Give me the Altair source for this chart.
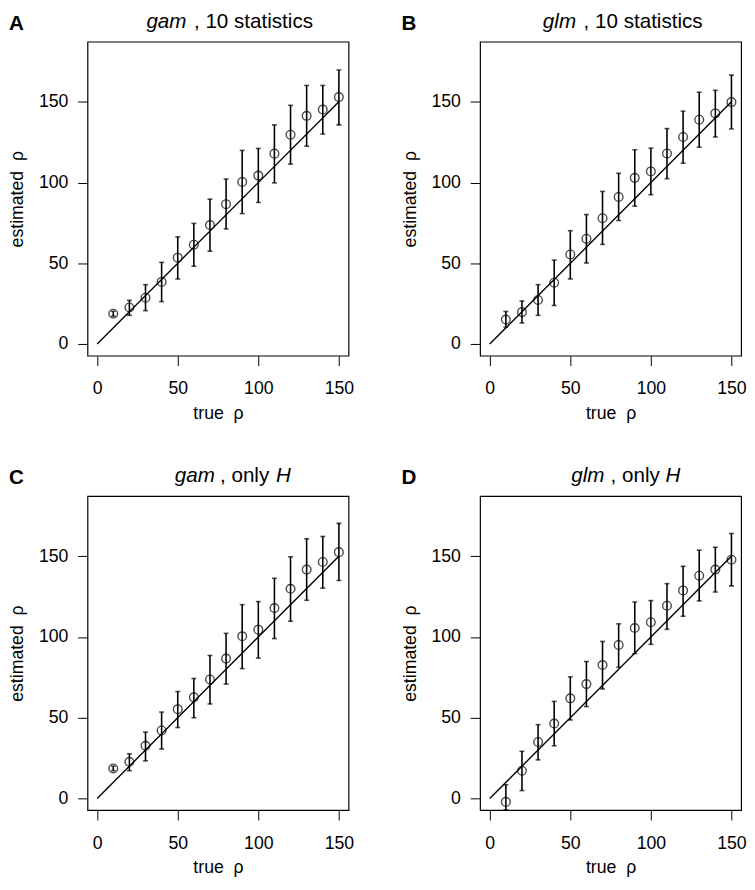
import altair as alt
import pandas as pd

x_true = [10, 20, 30, 40, 50, 60, 70, 80, 90, 100, 110, 120, 130, 140, 150]

A_est = [18.8, 22.7, 28.7, 38.5, 53.5, 61.5, 73.7, 86.6, 100.4, 104.3, 117.9, 129.6, 141.3, 145.2, 152.9]
A_lo = [17.3, 17.8, 20.7, 26.3, 40.3, 48.2, 57.5, 71.3, 80.8, 87.7, 99.8, 111.4, 122.5, 130.0, 135.7]
A_hi = [20.3, 27.1, 36.8, 50.6, 66.4, 74.7, 89.7, 102.2, 119.9, 121.1, 135.7, 147.8, 160.1, 160.1, 169.7]

B_est = [15.2, 19.8, 27.3, 38.0, 55.5, 65.2, 77.9, 91.1, 102.9, 106.9, 118.0, 128.2, 138.9, 142.8, 149.8]
B_lo = [10.5, 13.1, 17.8, 23.9, 40.3, 50.2, 61.7, 76.5, 85.4, 92.5, 102.4, 112.0, 121.9, 128.2, 133.2]
B_hi = [20.2, 26.7, 36.8, 52.0, 70.2, 80.2, 94.5, 105.7, 120.3, 121.3, 133.4, 144.2, 155.9, 157.1, 166.5]

C_est = [18.6, 22.7, 32.6, 42.1, 55.3, 62.6, 73.7, 86.6, 100.4, 104.5, 117.9, 129.8, 141.7, 146.4, 152.5]
C_lo = [17.2, 17.2, 23.3, 30.6, 43.9, 50.0, 58.5, 70.8, 80.4, 86.9, 99.0, 109.7, 122.7, 130.2, 134.9]
C_hi = [20.0, 27.7, 41.1, 53.5, 66.2, 74.3, 88.5, 102.2, 120.0, 121.9, 136.3, 149.6, 160.8, 162.2, 170.3]

D_est = [-2.1, 17.2, 35.0, 46.4, 62.0, 70.8, 82.6, 95.0, 105.5, 109.1, 119.3, 128.8, 137.9, 141.7, 147.8]
D_lo = [-7.0, 4.9, 23.9, 32.6, 48.6, 56.9, 67.8, 81.2, 89.7, 95.4, 104.7, 112.8, 122.3, 127.8, 131.6]
D_hi = [8.5, 29.2, 45.7, 60.1, 75.3, 84.8, 97.2, 108.1, 121.6, 122.5, 133.0, 143.7, 153.7, 155.5, 164.0]

identity_x = [0, 150]
tick_values = [0, 50, 100, 150]

X_TITLE = "true\u00a0 ρ"
Y_TITLE = "estimated\u00a0 ρ"

# title pieces: (text, italic, x offset from plot left)
titles = {
    "A": [("gam", True, 60), (", 10 statistics", False, 108.5)],
    "B": [("glm", True, 64), (", 10 statistics", False, 105.5)],
    "C": [("gam", True, 89), (", only", False, 135), ("H", True, 192)],
    "D": [("glm", True, 93), (", only", False, 133), ("H", True, 189)],
}

FONT = "Liberation Sans"
W, H = 266, 320


def panel(letter, est, lo, hi):
    df = pd.DataFrame({"x": x_true, "est": est, "lo": lo, "hi": hi})
    xs = alt.Scale(domain=[-6, 156], nice=False, zero=False)
    ys = alt.Scale(domain=[-7.2, 187.2], nice=False, zero=False)
    xax = alt.Axis(values=tick_values, title=X_TITLE)
    yax = alt.Axis(values=tick_values, title=Y_TITLE)

    def X(f):
        return alt.X(f, scale=xs, axis=xax, title=X_TITLE)

    def Y(f):
        return alt.Y(f, scale=ys, axis=yax, title=Y_TITLE)

    line = alt.Chart(pd.DataFrame({"x": identity_x, "y": identity_x})).mark_line(
        color="black", strokeWidth=1.4
    ).encode(x=X("x:Q"), y=Y("y:Q"))
    base = alt.Chart(df)
    rules = base.mark_rule(color="black", strokeWidth=1.6).encode(
        x=X("x:Q"), y=Y("lo:Q"), y2="hi:Q"
    )
    cap_lo = base.mark_tick(orient="horizontal", size=5, thickness=1.6, color="black").encode(
        x=X("x:Q"), y=Y("lo:Q")
    )
    cap_hi = base.mark_tick(orient="horizontal", size=5, thickness=1.6, color="black").encode(
        x=X("x:Q"), y=Y("hi:Q")
    )
    pts = base.mark_point(shape="circle", filled=False, size=78, color="black", strokeWidth=1.4).encode(
        x=X("x:Q"), y=Y("est:Q")
    )
    layers = [line, rules, cap_lo, cap_hi, pts]
    for txt, ital, xo in titles[letter]:
        layers.append(
            alt.Chart(pd.DataFrame({"t": [txt]})).mark_text(
                font=FONT, fontSize=21, fontStyle="italic" if ital else "normal",
                align="left", baseline="middle", color="black",
            ).encode(text="t:N", x=alt.value(xo), y=alt.value(-20))
        )
    layers.append(
        alt.Chart(pd.DataFrame({"t": [letter]})).mark_text(
            font=FONT, fontSize=21, fontWeight="bold", align="left", baseline="middle", color="black",
        ).encode(text="t:N", x=alt.value(-80), y=alt.value(-18))
    )
    return alt.layer(*layers).properties(width=W, height=H)


pA = panel("A", A_est, A_lo, A_hi)
pB = panel("B", B_est, B_lo, B_hi)
pC = panel("C", C_est, C_lo, C_hi)
pD = panel("D", D_est, D_lo, D_hi)

chart = alt.vconcat(
    alt.hconcat(pA, pB, spacing=47),
    alt.hconcat(pC, pD, spacing=47),
    spacing=42,
).properties(
    padding={"left": 0, "top": -6, "right": 0, "bottom": 0}
).configure_view(
    stroke="black", strokeWidth=1.2
).configure_axis(
    grid=False, domain=False, tickColor="black", tickSize=10, tickWidth=1,
    labelFont=FONT, labelFontSize=18, labelColor="black",
    titleFont=FONT, titleFontSize=18, titleFontWeight="normal", titleColor="black",
).configure_axisX(labelPadding=15, titlePadding=7).configure_axisY(labelPadding=10, titlePadding=12)

chart.save("out.html", embed_options={"renderer": "svg", "actions": False})
